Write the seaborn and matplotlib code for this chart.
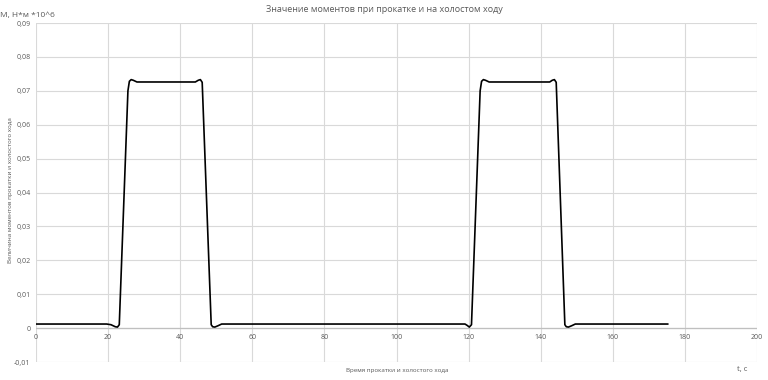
import numpy as np
import pandas as pd
import matplotlib
matplotlib.use('Agg')
import matplotlib.pyplot as plt
import seaborn as sns
from matplotlib.ticker import FuncFormatter, MultipleLocator

# ── data ─────────────────────────────────────────────────────
t_s = [0, 19.6, 20.8, 22.0, 22.6, 23.1, 25.5, 25.9, 26.4, 27.0, 28.0,
       44.2, 45.0, 45.6, 46.1, 48.6, 49.0, 49.6, 50.5, 51.5,
       119.0, 119.6, 120.2, 120.8, 123.2, 123.6, 124.1, 124.7, 125.7,
       142.5, 143.2, 143.8, 144.3, 146.7, 147.1, 147.7, 148.6, 149.6, 175.3]
moment = [0.0012, 0.0012, 0.0010, 0.0004, 0.0003, 0.0010, 0.0700, 0.0728, 0.0733, 0.0731, 0.0726,
          0.0726, 0.0731, 0.0733, 0.0725, 0.0010, 0.0004, 0.0003, 0.0007, 0.0012,
          0.0012, 0.0008, 0.0003, 0.0010, 0.0700, 0.0728, 0.0733, 0.0731, 0.0726,
          0.0726, 0.0731, 0.0733, 0.0725, 0.0010, 0.0004, 0.0003, 0.0007, 0.0012, 0.0012]

title = "Значение моментов при прокатке и на холостом ходу"
y_title = "Величина моментов прокатки и холостого хода"
x_title = "Время прокатки и холостого хода"
y_unit = "М, Н*м *10^6"
x_unit = "t, c"

df = pd.DataFrame({"t": t_s, "M": moment})

sns.set_style("white")
plt.rcParams['font.family'] = ['Open Sans', 'DejaVu Sans']
txt = "#595959"

fig = plt.figure(figsize=(7.68, 3.8), dpi=100)
ax = fig.add_axes([36/768, 18/380, (757-36)/768, (362-23)/380])

sns.lineplot(data=df, x="t", y="M", ax=ax, color="black", lw=1.2,
             estimator=None, sort=False, zorder=3)

ax.set_xlim(0, 200)
ax.set_ylim(-0.01, 0.09)
ax.xaxis.set_major_locator(MultipleLocator(20))
ax.yaxis.set_major_locator(MultipleLocator(0.01))
ax.yaxis.set_major_formatter(FuncFormatter(
    lambda v, p: "0" if abs(v) < 1e-9 else f"{v:.2f}".replace(".", ",")))
ax.grid(True, color="#d9d9d9", lw=0.8)
ax.axhline(0, color="#bfbfbf", lw=0.9, zorder=2)

for s in ["top", "right", "left"]:
    ax.spines[s].set_visible(False)
ax.spines["bottom"].set_position(("data", 0))
ax.spines["bottom"].set_visible(False)
ax.tick_params(length=0, labelsize=5, colors=txt, pad=4)
ax.set_xlabel("")
ax.set_ylabel("")

fig.text(0.5, 1 - 9/380, title, ha="center", va="center", fontsize=6.5, color=txt)
fig.text(0.0, 1 - 15/380, y_unit, ha="left", va="center", fontsize=6, color=txt)
fig.text(10/768, 1 - 190/380, y_title, ha="center", va="center", rotation=90,
         fontsize=4.5, color=txt)
fig.text(397/768, 1 - 370/380, x_title, ha="center", va="center", fontsize=4.5, color=txt)
fig.text(742/768, 1 - 369/380, x_unit, ha="center", va="center", fontsize=5.5, color=txt)

plt.savefig("out.png", dpi=100)
plt.close()
